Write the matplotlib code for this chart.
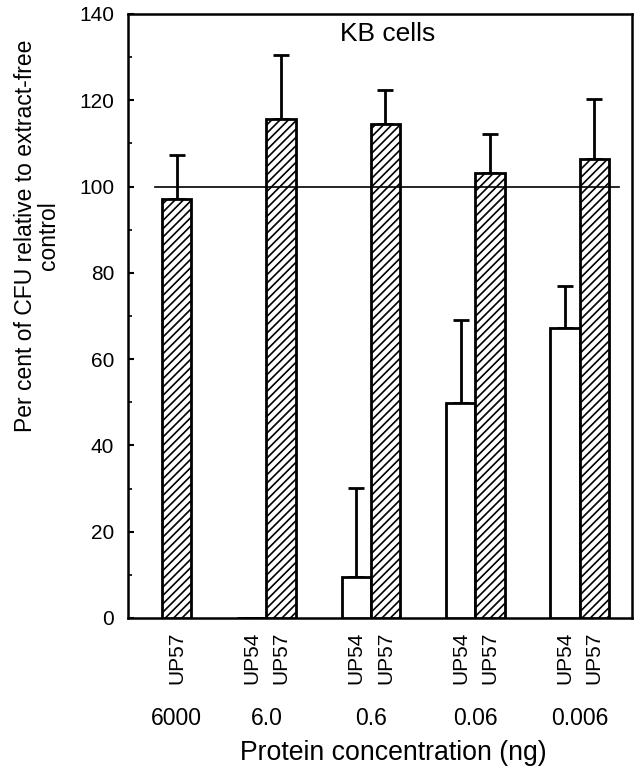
import numpy as np
import matplotlib
matplotlib.use('Agg')
import matplotlib.pyplot as plt

# values (per cent of CFU, extract-free control = 100)
concentrations = ['6000', '6.0', '0.6', '0.06', '0.006']
up54 = [np.nan, 0.0, 9.4, 49.8, 67.2]
up54_err = [0.0, 0.0, 20.7, 19.3, 9.8]
up57 = [97.0, 115.6, 114.5, 103.2, 106.4]
up57_err = [10.2, 14.9, 7.9, 9.0, 13.9]
control_level = 100

plt.rcParams['font.family'] = ['Liberation Sans', 'DejaVu Sans']
plt.rcParams['hatch.linewidth'] = 1.2

fig = plt.figure(figsize=(6.37, 7.72), dpi=100)
ax = fig.add_axes([0.201, 0.1995, 0.791, 0.7824])

pos = np.arange(len(concentrations))
w = 0.28
x54 = pos - w / 2
x57 = pos + w / 2

ax.bar(x54, up54, width=w, color='white', edgecolor='black', linewidth=2, zorder=3)
ax.bar(x57, up57, width=w, color='white', edgecolor='black', linewidth=2,
       hatch='////', zorder=3)

e54 = np.array(up54_err)
e57 = np.array(up57_err)
ax.errorbar(x54, up54, yerr=[np.zeros_like(e54), e54], fmt='none', ecolor='black',
            elinewidth=2, capsize=5.5, capthick=2, zorder=2)
ax.errorbar(x57, up57, yerr=[np.zeros_like(e57), e57], fmt='none', ecolor='black',
            elinewidth=2, capsize=5.5, capthick=2, zorder=2)

ax.axhline(control_level, xmin=0.054, xmax=0.974, color='black', linewidth=1.2, zorder=5)

ax.set_xlim(-0.325, 4.5)
ax.set_ylim(0, 140)
ax.set_yticks(np.arange(0, 141, 20))
ax.set_yticks(np.arange(0, 141, 10), minor=True)
ax.tick_params(axis='y', which='major', direction='in', length=4, width=1.5,
               pad=10, labelsize=15)
ax.tick_params(axis='y', which='minor', direction='in', length=3, width=1.2)

# bar name labels under each bar
tick_x = []
tick_lab = []
for i in range(len(concentrations)):
    if not np.isnan(up54[i]):
        tick_x.append(x54[i])
        tick_lab.append('UP54')
    tick_x.append(x57[i])
    tick_lab.append('UP57')
ax.set_xticks(tick_x)
ax.set_xticklabels(tick_lab, rotation=90, va='top', fontsize=15)
ax.tick_params(axis='x', length=0, pad=10)

for i, c in enumerate(concentrations):
    cx = pos[i] if not np.isnan(up54[i]) else x57[i]
    ax.annotate(c, xy=(cx, 0), xycoords=('data', 'axes fraction'),
                xytext=(0, -72.5), textcoords='offset points',
                ha='center', va='center', fontsize=16.5)

for s in ax.spines.values():
    s.set_linewidth(1.8)

ax.text(0.516, 0.967, 'KB cells', transform=ax.transAxes, ha='center',
        va='center', fontsize=19)

fig.text(37 / 637, 1 - 236 / 772, 'Per cent of CFU relative to extract-free\ncontrol',
         rotation=90, ha='center', va='center', multialignment='center', fontsize=16.5,
         linespacing=1.0)
fig.text(393 / 637, 1 - 753 / 772, 'Protein concentration (ng)', ha='center',
         va='center', fontsize=19.2)

fig.savefig('out.png', dpi=100)
